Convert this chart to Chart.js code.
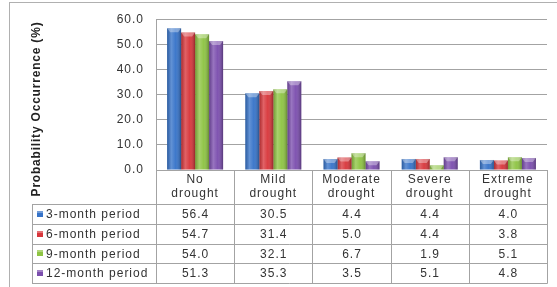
<!DOCTYPE html>
<html>
<head>
<meta charset="utf-8">
<script src="https://cdn.jsdelivr.net/npm/chart.js@4/dist/chart.umd.min.js"></script>
<style>
    html, body { margin: 0; padding: 0; background: #fff; }
    #wrap { width: 557px; height: 287px; position: relative; }
</style>
</head>
<body>
<div id="wrap"><canvas id="chartKekeringan"></canvas></div>
<script>
// data dari gambar
const kategori = [['No', 'drought'], ['Mild', 'drought'], ['Moderate', 'drought'], ['Severe', 'drought'], ['Extreme', 'drought']];
const periode = ['3-month period', '6-month period', '9-month period', '12-month period'];
const nilai3bulan = [56.4, 30.5, 4.4, 4.4, 4.0];
const nilai6bulan = [54.7, 31.4, 5.0, 4.4, 3.8];
const nilai9bulan = [54.0, 32.1, 6.7, 1.9, 5.1];
const nilai12bulan = [51.3, 35.3, 3.5, 5.1, 4.8];
const semuaNilai = [nilai3bulan, nilai6bulan, nilai9bulan, nilai12bulan];
const warna = ['#3673c9', '#d8363b', '#8ec443', '#7b4eae'];

const FONT = '"Liberation Sans", Arial, sans-serif';
const GARIS = '#a3a3a3';

// plugin: latar, bingkai, efek 3D batang, tabel data, judul sumbu
const pluginTabel = {
    id: 'tabelData',
    beforeLayout(chart) {
        chart.ctx.letterSpacing = '1px';
    },
    beforeDraw(chart) {
        const ctx = chart.ctx;
        ctx.letterSpacing = '1px';
        ctx.save();
        ctx.fillStyle = '#fff';
        ctx.fillRect(0, 0, chart.width, chart.height);
        ctx.strokeStyle = '#b0b0b0';
        ctx.lineWidth = 1;
        ctx.strokeRect(9.5, 2.5, chart.width + 10, chart.height + 10);
        ctx.restore();
    },
    afterDatasetsDraw(chart) {
        const ctx = chart.ctx;
        ctx.save();
        chart.data.datasets.forEach((ds, i) => {
            chart.getDatasetMeta(i).data.forEach(bar => {
                const kiri = bar.x - bar.width / 2;
                const w = bar.width;
                const h = bar.base - bar.y;
                const g = ctx.createLinearGradient(kiri, 0, kiri + w, 0);
                g.addColorStop(0, 'rgba(0,0,0,0.20)');
                g.addColorStop(0.3, 'rgba(255,255,255,0.22)');
                g.addColorStop(0.6, 'rgba(255,255,255,0.04)');
                g.addColorStop(1, 'rgba(0,0,0,0.30)');
                ctx.fillStyle = g;
                ctx.fillRect(kiri, bar.y, w, h);
                // tutup atas (bevel)
                const t = Math.min(4, h);
                ctx.fillStyle = 'rgba(255,255,255,0.35)';
                ctx.beginPath();
                ctx.moveTo(kiri, bar.y);
                ctx.lineTo(kiri + w, bar.y);
                ctx.lineTo(kiri + w - 3, bar.y + t);
                ctx.lineTo(kiri + 3, bar.y + t);
                ctx.closePath();
                ctx.fill();
            });
        });
        ctx.restore();
    },
    afterDraw(chart) {
        const ctx = chart.ctx;
        const sx = chart.scales.x;
        const lebarKat = sx.width / kategori.length;
        const atas = sx.bottom;
        const bawah = 283;
        const tinggiBaris = (bawah - atas) / periode.length;
        const kiriTabel = 32;

        ctx.save();
        ctx.letterSpacing = '1px';
        ctx.strokeStyle = GARIS;
        ctx.lineWidth = 1;
        ctx.beginPath();
        // garis vertikal kolom kategori
        for (let i = 0; i <= kategori.length; i++) {
            const xp = Math.round(sx.left + i * lebarKat) + 0.5;
            ctx.moveTo(xp, sx.top);
            ctx.lineTo(xp, bawah + 0.5);
        }
        ctx.moveTo(kiriTabel + 0.5, atas);
        ctx.lineTo(kiriTabel + 0.5, bawah + 0.5);
        // garis horizontal baris
        for (let r = 0; r <= periode.length; r++) {
            const yp = Math.round(atas + r * tinggiBaris) + 0.5;
            ctx.moveTo(kiriTabel, yp);
            ctx.lineTo(sx.right + 0.5, yp);
        }
        ctx.stroke();

        ctx.font = '12px ' + FONT;
        ctx.textBaseline = 'middle';
        ctx.fillStyle = '#333';
        periode.forEach((p, r) => {
            const yc = atas + (r + 0.5) * tinggiBaris;
            // kotak legenda
            const g = ctx.createLinearGradient(0, yc - 3, 0, yc + 3);
            g.addColorStop(0, warna[r]);
            g.addColorStop(1, warna[r]);
            ctx.fillStyle = warna[r];
            ctx.fillRect(37, Math.round(yc) - 3, 6, 6);
            ctx.fillStyle = 'rgba(255,255,255,0.3)';
            ctx.fillRect(37, Math.round(yc) - 3, 6, 2);
            ctx.fillStyle = '#333';
            ctx.textAlign = 'left';
            ctx.fillText(p, 46, yc + 1);
            ctx.textAlign = 'center';
            semuaNilai[r].forEach((v, c) => {
                ctx.fillText(v.toFixed(1), sx.getPixelForValue(c) + 0.5, yc + 1);
            });
        });

        // judul sumbu Y
        ctx.translate(37, 109);
        ctx.rotate(-Math.PI / 2);
        ctx.font = 'bold 12px ' + FONT;
        ctx.fillStyle = '#222';
        ctx.textAlign = 'center';
        ctx.letterSpacing = '0.8px';
        ctx.fillText('Probability Occurrence (%)', 0, 0);
        ctx.restore();
    }
};

new Chart(document.getElementById('chartKekeringan'), {
    type: 'bar',
    data: {
        labels: kategori,
        datasets: periode.map((p, i) => ({
            label: p,
            data: semuaNilai[i],
            backgroundColor: warna[i],
            borderWidth: 0,
            categoryPercentage: 0.716,
            barPercentage: 1
        }))
    },
    options: {
        responsive: true,
        maintainAspectRatio: false,
        animation: false,
        layout: {
            padding: { left: 0, right: 10, top: 16, bottom: 83 }
        },
        scales: {
            x: {
                grid: { display: false, drawTicks: false },
                border: { display: true, color: GARIS },
                ticks: {
                    color: '#333',
                    font: { family: FONT, size: 12 },
                    padding: 2,
                    maxRotation: 0,
                    autoSkip: false
                },
                afterFit(scale) { scale.height = 34; }
            },
            y: {
                min: 0,
                max: 60,
                grid: { color: GARIS, drawTicks: false },
                border: { display: true, color: GARIS },
                ticks: {
                    stepSize: 10,
                    color: '#333',
                    font: { family: FONT, size: 12 },
                    padding: 12,
                    callback: v => v.toFixed(1)
                },
                afterFit(scale) { scale.width = 156; }
            }
        },
        plugins: {
            legend: { display: false },
            tooltip: { enabled: false }
        }
    },
    plugins: [pluginTabel]
});
</script>
</body>
</html>
